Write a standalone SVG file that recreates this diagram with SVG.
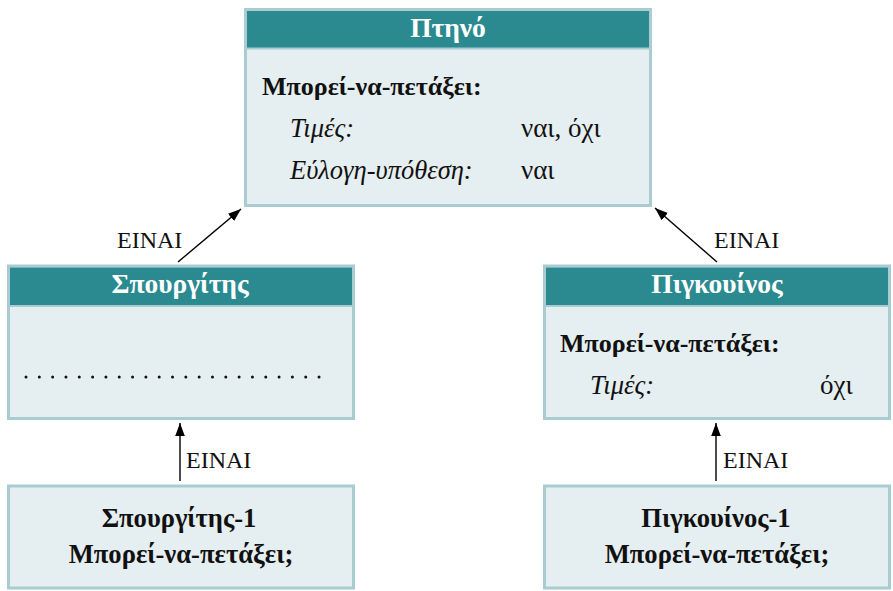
<svg xmlns="http://www.w3.org/2000/svg" width="893" height="591" viewBox="0 0 893 591">
  <style>
    text { font-family: "Liberation Serif", "Times New Roman", serif; fill: #111; }
    .box { fill: #e5eef0; stroke: #a9ccd2; stroke-width: 3; }
    .hdr { fill: #2b8a90; }
    .sep { stroke: #a9ccd2; stroke-width: 2; }
    .title { font-size: 27.5px; font-weight: bold; fill: #ffffff; text-anchor: middle; }
    .attr { font-size: 26px; font-weight: bold; }
    .key { font-size: 26.5px; font-style: italic; }
    .val { font-size: 27px; }
    .inst { font-size: 26.6px; font-weight: bold; text-anchor: middle; }
    .lbl { font-size: 24px; }
    .edge { stroke: #000; stroke-width: 1.4; fill: none; marker-end: url(#arrow); }
    .dots { stroke: #111; stroke-width: 3; stroke-linecap: round; stroke-dasharray: 0 13.32; }
  </style>
  <defs>
    <marker id="arrow" viewBox="0 0 10 10" refX="10" refY="5" markerWidth="13" markerHeight="13" markerUnits="userSpaceOnUse" orient="auto">
      <path d="M0,1.3 L10,5 L0,8.7 Z" fill="#000"/>
    </marker>
  </defs>

  <!-- Bird (class) -->
  <g id="ptino">
    <rect class="box" x="245.5" y="9.5" width="405" height="196"/>
    <rect class="hdr" x="247" y="11" width="402" height="37"/>
    <line class="sep" x1="247" y1="48.5" x2="649" y2="48.5"/>
    <text class="title" x="448" y="37">Πτηνό</text>
    <text class="attr" x="262" y="95">Μπορεί-να-πετάξει:</text>
    <text class="key" x="290" y="137">Τιμές:</text>
    <text class="val" x="521" y="137">ναι, όχι</text>
    <text class="key" x="290" y="179">Εύλογη-υπόθεση:</text>
    <text class="val" x="521" y="179">ναι</text>
  </g>

  <!-- Sparrow (class) -->
  <g id="spourgitis">
    <rect class="box" x="8.5" y="266" width="345" height="152.5"/>
    <rect class="hdr" x="10" y="267.5" width="342" height="38"/>
    <line class="sep" x1="10" y1="306" x2="352" y2="306"/>
    <text class="title" x="180" y="293">Σπουργίτης</text>
    <line class="dots" x1="26" y1="377" x2="321" y2="377"/>
  </g>

  <!-- Penguin (class) -->
  <g id="pigkouinos">
    <rect class="box" x="544.5" y="266" width="345" height="152.5"/>
    <rect class="hdr" x="546" y="267.5" width="342" height="38"/>
    <line class="sep" x1="546" y1="306" x2="888" y2="306"/>
    <text class="title" x="717" y="293">Πιγκουίνος</text>
    <text class="attr" x="560" y="352">Μπορεί-να-πετάξει:</text>
    <text class="key" x="590" y="394">Τιμές:</text>
    <text class="val" x="820" y="394">όχι</text>
  </g>

  <!-- Sparrow-1 (instance) -->
  <g id="spourgitis-1">
    <rect class="box" x="8.5" y="486" width="345" height="102"/>
    <text class="inst" x="179" y="527">Σπουργίτης-1</text>
    <text class="inst" x="181" y="563">Μπορεί-να-πετάξει;</text>
  </g>

  <!-- Penguin-1 (instance) -->
  <g id="pigkouinos-1">
    <rect class="box" x="544.5" y="486" width="345" height="102"/>
    <text class="inst" x="716" y="527">Πιγκουίνος-1</text>
    <text class="inst" x="717" y="563">Μπορεί-να-πετάξει;</text>
  </g>

  <!-- IS-A connectors -->
  <g id="connectors">
    <line class="edge" x1="178" y1="262" x2="241" y2="209"/>
    <line class="edge" x1="717" y1="262" x2="655" y2="208"/>
    <line class="edge" x1="180" y1="481" x2="180" y2="423"/>
    <line class="edge" x1="716" y1="481" x2="716" y2="423"/>
    <text class="lbl" x="117" y="248">ΕΙΝΑΙ</text>
    <text class="lbl" x="714" y="248">ΕΙΝΑΙ</text>
    <text class="lbl" x="186" y="468">ΕΙΝΑΙ</text>
    <text class="lbl" x="723" y="468">ΕΙΝΑΙ</text>
  </g>
</svg>
